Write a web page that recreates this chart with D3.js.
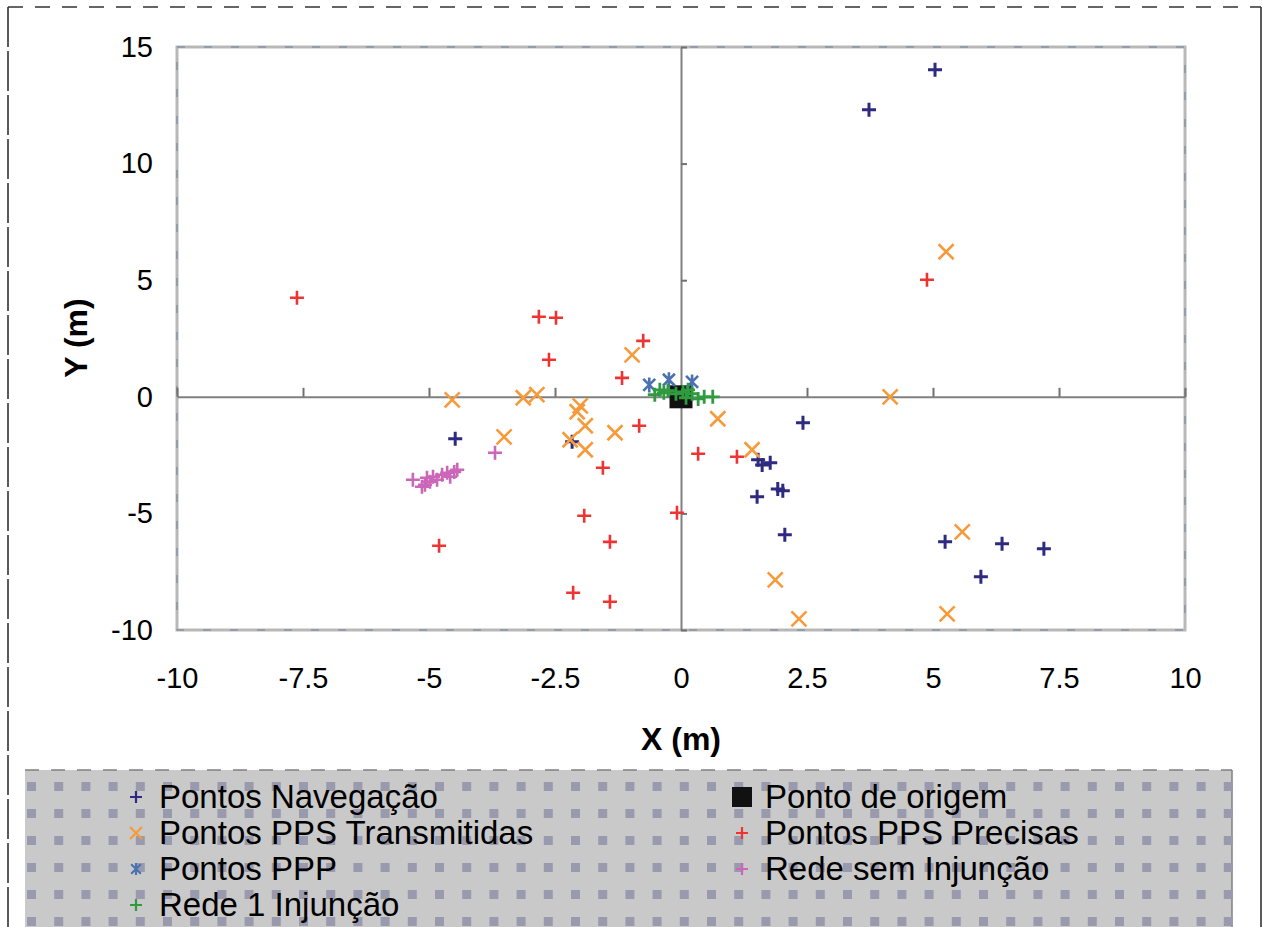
<!DOCTYPE html>
<html>
<head>
<meta charset="utf-8">
<script src="https://cdn.jsdelivr.net/npm/d3@7"></script>
<style>
  html, body { margin: 0; padding: 0; background: #fff; }
  svg { display: block; font-family: "Liberation Sans", Arial, sans-serif; }
</style>
</head>
<body>
<svg id="chart" width="1266" height="927"></svg>
<script>
// values (metres)
const navPts = [[5.04, 14.02], [3.73, 12.31], [-4.48, -1.80], [2.42, -1.11], [-2.16, -1.93],
    [1.53, -2.70], [1.61, -2.92], [1.77, -2.83], [1.51, -4.29], [1.92, -3.95], [2.02, -4.03],
    [2.06, -5.92], [5.24, -6.22], [6.37, -6.30], [7.20, -6.52], [5.95, -7.72]];
const origemPts = [[0, 0]];
const transPts = [[-4.54, -0.13], [-3.13, -0.04], [-2.86, 0.09], [-2.00, -0.39], [-2.06, -0.64],
    [-1.90, -1.24], [-2.20, -1.84], [-1.90, -2.27], [-3.51, -1.72], [-1.31, -1.54], [-0.97, 1.80],
    [0.73, -0.94], [1.41, -2.27], [5.26, 6.22], [4.15, 0.0], [5.58, -5.79], [5.28, -9.31],
    [1.87, -7.85], [2.34, -9.52]];
const precisasPts = [[-7.62, 4.25], [-2.82, 3.43], [-2.48, 3.39], [-2.62, 1.59], [-0.75, 2.40],
    [-1.17, 0.81], [-0.83, -1.24], [-1.55, -3.04], [0.34, -2.44], [1.11, -2.57], [4.88, 5.02],
    [-1.92, -5.10], [-1.41, -6.22], [-2.14, -8.40], [-1.41, -8.79], [-0.08, -4.97], [-4.80, -6.39]];
const pppPts = [[-0.63, 0.51], [-0.24, 0.73], [0.22, 0.64]];
const redeSemPts = [[-3.69, -2.40], [-5.32, -3.56], [-5.14, -3.86], [-5.08, -3.77], [-5.04, -3.47],
    [-4.98, -3.64], [-4.92, -3.43], [-4.84, -3.56], [-4.74, -3.34], [-4.64, -3.26], [-4.58, -3.43],
    [-4.50, -3.22], [-4.44, -3.13]];
const rede1Pts = [[-0.52, 0.09], [-0.42, 0.30], [-0.34, 0.17], [-0.26, 0.26], [0.04, 0.21],
    [0.14, 0.30], [0.22, 0.13], [0.10, -0.04], [0.34, -0.09], [0.46, 0.0], [0.63, 0.0], [-0.10, 0.13]];

const xTicks = [-10, -7.5, -5, -2.5, 0, 2.5, 5, 7.5, 10];
const yTicks = [-10, -5, 0, 5, 10, 15];

// marker shapes, size = half width in px
const plusType = {draw(ctx, r) { ctx.moveTo(-r, 0); ctx.lineTo(r, 0); ctx.moveTo(0, -r); ctx.lineTo(0, r); }};
const timesType = {draw(ctx, r) { ctx.moveTo(-r, -r); ctx.lineTo(r, r); ctx.moveTo(-r, r); ctx.lineTo(r, -r); }};
const starType = {draw(ctx, r) {
    const d = r * 0.8;
    ctx.moveTo(-d, -d); ctx.lineTo(d, d); ctx.moveTo(-d, d); ctx.lineTo(d, -d);
    ctx.moveTo(0, -r); ctx.lineTo(0, r);
}};
const squareType = {draw(ctx, r) { ctx.rect(-r, -r, 2 * r, 2 * r); }};

// Excel draws in this order, legend reads row by row
const series = [
    {name: "Pontos Navegação", pts: navPts, type: plusType, color: "#2e2a80", r: 7, w: 3, fill: false},
    {name: "Ponto de origem", pts: origemPts, type: squareType, color: "#111111", r: 11.5, w: 0, fill: true},
    {name: "Pontos PPS Transmitidas", pts: transPts, type: timesType, color: "#f79a3a", r: 7.5, w: 2.6, fill: false},
    {name: "Pontos PPS Precisas", pts: precisasPts, type: plusType, color: "#ee3333", r: 7, w: 2.6, fill: false},
    {name: "Pontos PPP", pts: pppPts, type: starType, color: "#4a72b0", r: 7.5, w: 2.6, fill: false},
    {name: "Rede sem Injunção", pts: redeSemPts, type: plusType, color: "#cc66b8", r: 7, w: 2.6, fill: false},
    {name: "Rede 1 Injunção", pts: rede1Pts, type: plusType, color: "#2f9a3f", r: 7, w: 2.8, fill: false}
];

const svg = d3.select("#chart");
const x = d3.scaleLinear().domain([-10, 10]).range([177, 1185]);
const y = d3.scaleLinear().domain([-10, 15]).range([630, 47]);

// outer chart frame
const frame = svg.append("g").attr("fill", "none").attr("stroke", "#333").attr("stroke-width", 1.6);
frame.append("line").attr("x1", 8).attr("x2", 1261).attr("y1", 7).attr("y2", 7).attr("stroke-dasharray", "15,12");
frame.append("line").attr("x1", 8).attr("x2", 8).attr("y1", 7).attr("y2", 940).attr("stroke-dasharray", "40,4");
frame.append("line").attr("x1", 1261).attr("x2", 1261).attr("y1", 7).attr("y2", 940);

// plot area border
svg.append("rect")
    .attr("x", 177).attr("y", 47).attr("width", 1185 - 177).attr("height", 630 - 47)
    .attr("fill", "#fff").attr("stroke", "#b8b8b8").attr("stroke-width", 3);
svg.append("rect")
    .attr("x", 177).attr("y", 47).attr("width", 1185 - 177).attr("height", 630 - 47)
    .attr("fill", "none").attr("stroke", "#6f8198").attr("stroke-width", 1).attr("stroke-dasharray", "8,19");

// axes crossing at zero
const gx0 = svg.append("g")
    .attr("transform", `translate(0,${y(0)})`)
    .call(d3.axisTop(x).tickValues(xTicks).tickSize(9).tickSizeOuter(0).tickFormat(""));
const gy0 = svg.append("g")
    .attr("transform", `translate(${x(0)},0)`)
    .call(d3.axisRight(y).tickValues(yTicks).tickSize(6).tickSizeOuter(0).tickFormat(""));
[gx0, gy0].forEach(g => {
    g.select(".domain").attr("stroke", "#808080").attr("stroke-width", 2);
    g.selectAll(".tick line").attr("stroke", "#707070").attr("stroke-width", 2);
});

// tick labels at the low side
const gxl = svg.append("g")
    .attr("transform", "translate(0,630)")
    .call(d3.axisBottom(x).tickValues(xTicks).tickSize(0).tickPadding(37).tickFormat(d => String(d)));
const gyl = svg.append("g")
    .attr("transform", "translate(177,0)")
    .call(d3.axisLeft(y).tickValues(yTicks).tickSize(0).tickPadding(24).tickFormat(d => String(d)));
[gxl, gyl].forEach(g => {
    g.select(".domain").remove();
    g.selectAll("text").attr("fill", "#000").style("font-size", "29px")
        .style("font-family", "'Liberation Sans', Arial, sans-serif");
});

svg.append("text")
    .attr("x", 681).attr("y", 750)
    .attr("text-anchor", "middle")
    .style("font-size", "32px").style("font-weight", "bold")
    .text("X (m)");
svg.append("text")
    .attr("transform", "translate(87,338) rotate(-90)")
    .attr("text-anchor", "middle")
    .style("font-size", "32px").style("font-weight", "bold")
    .text("Y (m)");

// points
const sym = d3.symbol();
series.forEach(s => {
    svg.append("g").selectAll("path")
        .data(s.pts)
        .join("path")
        .attr("transform", d => `translate(${x(d[0])},${y(d[1])})`)
        .attr("d", sym.type(s.type).size(s.r)())
        .attr("fill", s.fill ? s.color : "none")
        .attr("stroke", s.fill ? "none" : s.color)
        .attr("stroke-width", s.w);
});

// legend
const leg = svg.append("g");
leg.append("rect")
    .attr("x", 25).attr("y", 770).attr("width", 1232 - 25).attr("height", 200)
    .attr("fill", "#c9c9c9");
leg.append("line").attr("x1", 25).attr("x2", 1232).attr("y1", 770).attr("y2", 770)
    .attr("stroke", "#808080").attr("stroke-width", 1.5).attr("stroke-dasharray", "14,12");
leg.append("line").attr("x1", 1232).attr("x2", 1232).attr("y1", 770).attr("y2", 940)
    .attr("stroke", "#808080").attr("stroke-width", 1.5);

const dotCols = d3.range(27, 1226, 27.2);
const dotRows = d3.range(782, 930, 27);
leg.append("g").selectAll("rect")
    .data(d3.cross(dotCols, dotRows))
    .join("rect")
    .attr("x", d => d[0]).attr("y", d => d[1])
    .attr("width", 9).attr("height", 9)
    .attr("fill", "#9a9aae");

const legRows = [808, 844, 880, 916];
const items = leg.selectAll("g.item")
    .data(series)
    .join("g")
    .attr("class", "item")
    .attr("transform", (d, i) => {
        const col = i % 2, row = Math.floor(i / 2);
        return `translate(${col ? 742 : 136},${legRows[row]})`;
    });
items.append("path")
    .attr("transform", "translate(0,-11)")
    .attr("d", d => sym.type(d.type).size(d.fill ? 10 : 6)())
    .attr("fill", d => d.fill ? d.color : "none")
    .attr("stroke", d => d.fill ? "none" : d.color)
    .attr("stroke-width", 2.2);
items.append("text")
    .attr("x", 23)
    .style("font-size", "33px")
    .attr("fill", "#000")
    .text(d => d.name);
</script>
</body>
</html>
